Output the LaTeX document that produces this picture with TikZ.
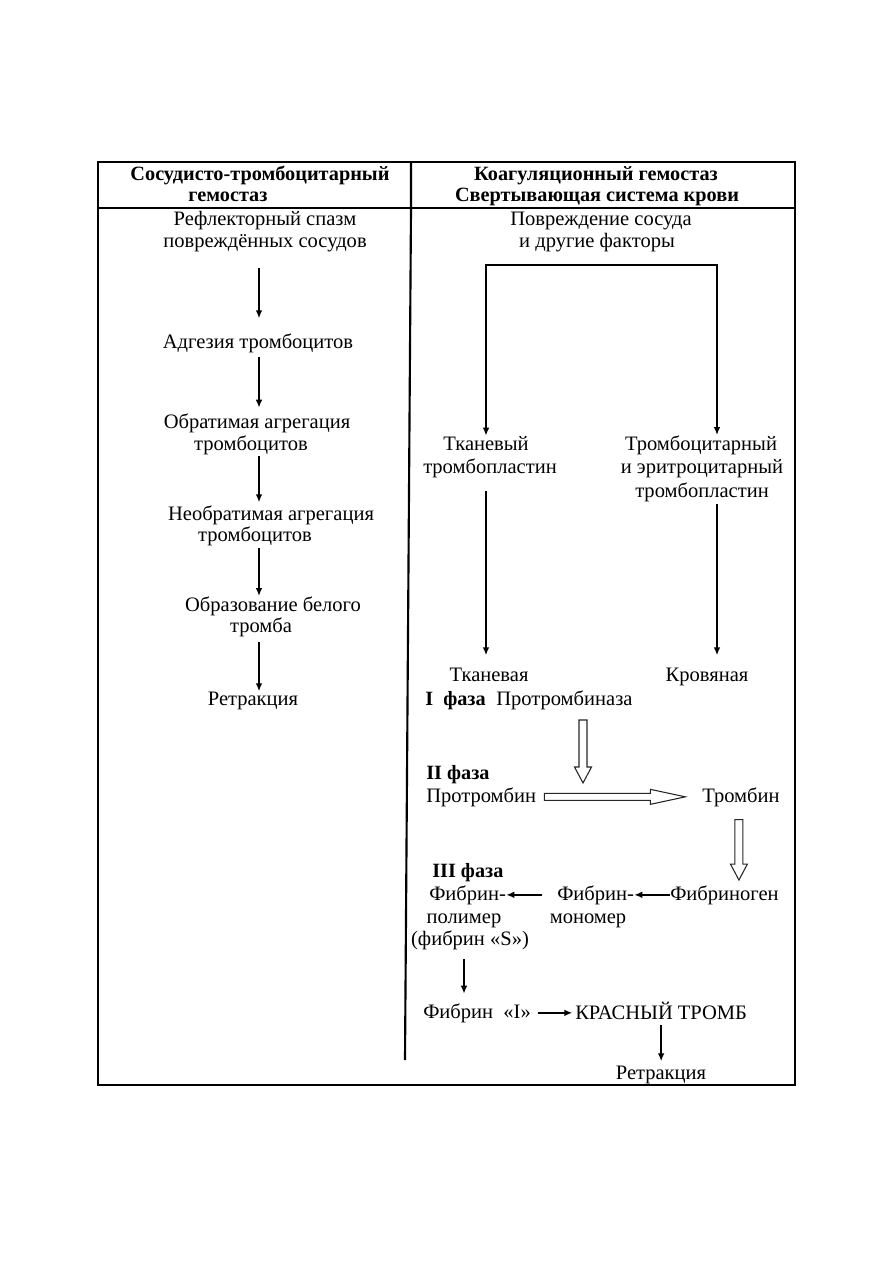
\documentclass[tikz,border=0pt]{standalone}
\usepackage{fontspec}
\setmainfont{Liberation Serif}
\usetikzlibrary{arrows.meta,calc}

\begin{document}
\begin{tikzpicture}[x=0.75pt,y=-0.75pt,
    txt/.style={inner sep=0pt,anchor=base,font=\fontsize{15.4}{18}\selectfont},
    txtl/.style={txt,anchor=base west},
    hd/.style={txt,font=\fontsize{15.2}{18}\selectfont\bfseries},
    hdl/.style={hd,anchor=base west},
    arr/.style={line width=1.3pt,-{Latex[length=6pt,width=5pt]}},
    arrtwo/.style={line width=1.3pt,{Latex[length=6pt,width=5pt]}-{Latex[length=6pt,width=5pt]}},
    hollow/.style={line width=0.8pt,draw=black!85,fill=white}]
  \def\hollowdown#1#2{%
    \draw[hollow] ($(#1)+(-4,0)$) -- ($(#1)+(4,0)$) -- ($(#2)+(4,-16)$)
      -- ($(#2)+(8.5,-16)$) -- (#2) -- ($(#2)+(-8.5,-16)$) -- ($(#2)+(-4,-16)$) -- cycle;}
  \def\hollowright#1#2{%
    \draw[hollow] ($(#1)+(0,-3.5)$) -- ($(#2)+(-35,-3.5)$) -- ($(#2)+(-35,-7.5)$)
      -- (#2) -- ($(#2)+(-35,7.5)$) -- ($(#2)+(-35,3.5)$) -- ($(#1)+(0,3.5)$) -- cycle;}
\useasboundingbox (0,0) rectangle (893,1263);

% table
\draw[line width=1.2pt] (98,162) rectangle (795,1085);
\draw[line width=1.2pt] (98,208) -- (795,208);
\draw[line width=1.6pt] (411,162) -- (411,208) -- (405,1060);

\node[hd] (hdl1) at (260,180) {Сосудисто-тромбоцитарный};
\node[hd] (hdl2) at (228,201) {гемостаз};
\node[hd] (hdr1) at (596,180) {Коагуляционный гемостаз};
\node[hd] (hdr2) at (597,201) {Свертывающая система крови};

% left column
\node[txt] (refl1) at (265,225) {Рефлекторный спазм};
\node[txt] (refl2) at (265,247) {повреждённых сосудов};
\node[txt] (adg) at (258,348) {Адгезия тромбоцитов};
\node[txt] (obr1) at (257,428) {Обратимая агрегация};
\node[txt] (obr2) at (251,450) {тромбоцитов};
\node[txt] (neo1) at (271,520) {Необратимая агрегация};
\node[txt] (neo2) at (255,541) {тромбоцитов};
\node[txt] (wht1) at (273,611) {Образование белого};
\node[txt] (wht2) at (261,632) {тромба};
\node[txt] (retl) at (253,705) {Ретракция};
\coordinate (lax) at (259,0);

\draw[arr,shorten <=12pt,shorten >=11pt] (refl2.south -| lax) -- (adg.north -| lax);
\draw[arr,shorten <=3pt,shorten >=4pt] (adg.south -| lax) -- (obr1.north -| lax);
\draw[arr,shorten <=1pt,shorten >=2pt] (obr2.south -| lax) -- (neo1.north -| lax);
\draw[arr,shorten <=2pt,shorten >=0pt] (neo2.south -| lax) -- (wht1.north -| lax);
\draw[arr,shorten <=4pt] (wht2.south -| lax) -- (retl.north -| lax);

% right column
\node[txt] (dmg1) at (601,225) {Повреждение сосуда};
\node[txt] (dmg2) at (597,247) {и другие факторы};
\node[txt] (tkv1) at (486,450) {Тканевый};
\node[txt] (tkv2) at (490,473) {тромбопластин};
\node[txt] (trc1) at (701,450) {Тромбоцитарный};
\node[txt] (trc2) at (702,473) {и эритроцитарный};
\node[txt] (trc3) at (702,497) {тромбопластин};
\node[txt] (tkan) at (489,681) {Тканевая};
\node[txt] (krv) at (707,681) {Кровяная};
\coordinate (fork) at ([yshift=-10pt]dmg2.south);
\coordinate (rax) at (717,0);

\draw[arrtwo] (tkv1.north) |- (fork -| rax) -- (trc1.north -| rax);
\draw[arr,shorten <=10pt,shorten >=9pt] (tkv2.south -| tkv1) -- (tkan.north -| tkv1);
\draw[arr,shorten <=2pt,shorten >=9pt] (trc3.south -| rax) -- (krv.north -| rax);

\node[hdl] (ph1) at (425,705) {I\ \ фаза};
\node[txtl] (ptz) at (496,705) {Протромбиназа};
\node[hdl] (ph2) at (426,779) {II фаза};
\node[txtl] (ptb) at (426,802) {Протромбин};
\node[txtl] (tmb) at (702,802) {Тромбин};

\coordinate (f1a) at (583,720);
\coordinate (f1b) at (583,783);
\coordinate (f2a) at ([xshift=6pt]ptb.east);
\coordinate (f2b) at ([xshift=-12.5pt]tmb.west);
\coordinate (f3a) at ($(tmb.south)+(-2,13)$);
\hollowdown{f1a}{f1b}
\hollowright{f2a}{f2b}

\node[hdl] (ph3) at (432,877) {III фаза};
\node[txtl] (fp1) at (429,900) {Фибрин-};
\node[txt] (fp2) at (464,923) {полимер};
\node[txt] (fp3) at (470,945) {(фибрин «S»)};
\node[txtl] (fm1) at (557,900) {Фибрин-};
\node[txt] (fm2) at (588,923) {мономер};
\node[txtl] (fbg) at (670,900) {Фибриноген};
\node[txtl] (fi) at (423,1018) {Фибрин\ \ «I»};
\node[txtl] (red) at (575,1019) {КРАСНЫЙ ТРОМБ};
\node[txt] (retr) at (661,1079) {Ретракция};

\coordinate (f3b) at ($(fbg.north -| f3a)+(0,-5)$);
\hollowdown{f3a}{f3b}

\draw[arr] (fbg.west) -- (fm1.east);
\draw[arr,shorten <=11pt] (fm1.west) -- (fp1.east);
\draw[arr,shorten <=7pt,shorten >=7pt] (fp3.south -| fp2) -- (fi.north -| fp2);
\draw[arr,shorten <=5pt,shorten >=2pt] (fi.east) -- (fi.east -| red.west);
\draw[arr,shorten <=4pt,shorten >=3pt] (red.south) -- (red.south |- retr.north);

\end{tikzpicture}
\end{document}
